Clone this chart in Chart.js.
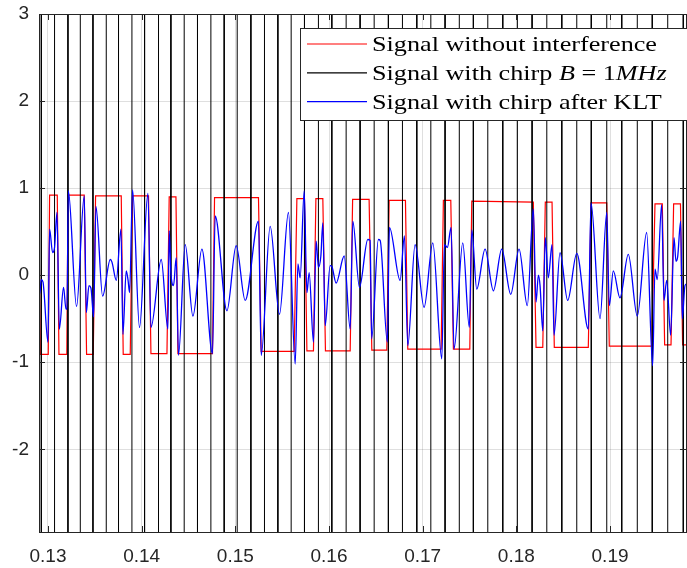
<!DOCTYPE html>
<html>
<head>
<meta charset="utf-8">
<script src="https://cdn.jsdelivr.net/npm/chart.js@4.4.1/dist/chart.umd.min.js"></script>
<style>
  html, body { margin: 0; padding: 0; background: #fff; }
  #wrap { width: 687px; height: 568px; }
</style>
</head>
<body>
<div id="wrap"><canvas id="chart" width="687" height="568"></canvas></div>
<script>
// axis ranges and tick labels
const xRange = [0.12904, 0.19811];
const yRange = [-2.95, 3];
const xTicks = [0.13, 0.14, 0.15, 0.16, 0.17, 0.18, 0.19];
const yTicks = [-2, -1, 0, 1, 2, 3];

const seriesNames = [
  "Signal without interference",
  "Signal with chirp $B = 1MHz$",
  "Signal with chirp after KLT",
];

// signal without interference (corner points of the square wave)
const refX = [0.12904, 0.12918, 0.13003, 0.13017, 0.13099, 0.13117, 0.13201, 0.13214, 0.13387, 0.13412,
  0.13483, 0.13508, 0.13782, 0.13803, 0.13878, 0.13903, 0.14073, 0.14099, 0.14270, 0.14294,
  0.14366, 0.14387, 0.14756, 0.14778, 0.15247, 0.15276, 0.15628, 0.15657, 0.15738, 0.15764,
  0.15834, 0.15860, 0.15934, 0.15962, 0.16226, 0.16252, 0.16428, 0.16457, 0.16617, 0.16642,
  0.16816, 0.16841, 0.17197, 0.17221, 0.17300, 0.17328, 0.17503, 0.17524, 0.18181, 0.18210,
  0.18282, 0.18309, 0.18381, 0.18405, 0.18768, 0.18797, 0.18965, 0.18992, 0.19445, 0.19480,
  0.19558, 0.19583, 0.19651, 0.19679, 0.19752, 0.19775, 0.19832];
const refY = [0.6, -0.91, -0.91, 0.92, 0.92, -0.91, -0.91, 0.92, 0.92, -0.91,
  -0.91, 0.91, 0.91, -0.91, -0.91, 0.91, 0.91, -0.9, -0.9, 0.9,
  0.9, -0.9, -0.9, 0.89, 0.89, -0.875, -0.875, 0.88, 0.88, -0.87,
  -0.87, 0.88, 0.88, -0.87, -0.87, 0.87, 0.87, -0.86, -0.86, 0.86,
  0.86, -0.85, -0.85, 0.86, 0.86, -0.85, -0.85, 0.85, 0.84, -0.83,
  -0.83, 0.84, 0.84, -0.83, -0.83, 0.83, 0.83, -0.815, -0.815, 0.82,
  0.82, -0.8, -0.8, 0.82, 0.82, -0.8, -0.8];

// chirp: huge swings, only the zero crossings are visible
const chirpCrossings = [0.12929, 0.13070, 0.13213, 0.13345, 0.13480, 0.13622, 0.13753, 0.13896, 0.14031, 0.14180,
  0.14312, 0.14454, 0.14596, 0.14739, 0.14881, 0.15020, 0.15166, 0.15311, 0.15454, 0.15596,
  0.15738, 0.15887, 0.16030, 0.16183, 0.16332, 0.16482, 0.16634, 0.16784, 0.16937, 0.17087,
  0.17239, 0.17391, 0.17541, 0.17695, 0.17855, 0.18011, 0.18168, 0.18325, 0.18485, 0.18645,
  0.18800, 0.18965, 0.19125, 0.19291, 0.19451, 0.19616, 0.19782];
const chirpPeak = 60;

// after KLT (peaks, troughs and jump points)
const kltX = [0.12904, 0.12910, 0.12929, 0.12947, 0.13000, 0.13017, 0.13049, 0.13070, 0.13096, 0.13121,
  0.13166, 0.13192, 0.13203, 0.13217, 0.13305, 0.13387, 0.13409, 0.13437, 0.13459, 0.13487,
  0.13512, 0.13583, 0.13665, 0.13683, 0.13729, 0.13779, 0.13800, 0.13835, 0.13854, 0.13871,
  0.13903, 0.13977, 0.14067, 0.14099, 0.14209, 0.14280, 0.14294, 0.14312, 0.14340, 0.14369,
  0.14393, 0.14465, 0.14547, 0.14643, 0.14756, 0.14785, 0.14910, 0.15009, 0.15105, 0.15247,
  0.15276, 0.15372, 0.15471, 0.15567, 0.15639, 0.15668, 0.15692, 0.15735, 0.15764, 0.15788,
  0.15834, 0.15863, 0.15887, 0.15913, 0.15934, 0.15959, 0.16012, 0.16030, 0.16076, 0.16162,
  0.16226, 0.16254, 0.16325, 0.16414, 0.16439, 0.16455, 0.16527, 0.16546, 0.16623, 0.16645,
  0.16759, 0.16805, 0.16841, 0.16919, 0.17015, 0.17108, 0.17204, 0.17232, 0.17264, 0.17303,
  0.17335, 0.17428, 0.17498, 0.17524, 0.17577, 0.17666, 0.17755, 0.17844, 0.17940, 0.18029,
  0.18117, 0.18181, 0.18210, 0.18235, 0.18253, 0.18282, 0.18309, 0.18341, 0.18381, 0.18402,
  0.18466, 0.18548, 0.18645, 0.18768, 0.18797, 0.18893, 0.18965, 0.18992, 0.19035, 0.19106,
  0.19195, 0.19291, 0.19391, 0.19455, 0.19480, 0.19504, 0.19551, 0.19576, 0.19605, 0.19647,
  0.19683, 0.19704, 0.19722, 0.19754, 0.19771, 0.19800, 0.19821];
const kltY = [0.83, -0.22, -0.05, -0.08, -0.77, 0.53, 0.26, 0.32, 0.72, -0.62,
  -0.14, -0.39, -0.39, 0.97, -0.36, 0.91, -0.43, -0.12, -0.15, -0.48,
  0.79, -0.24, 0.18, 0.15, -0.06, 0.53, -0.68, 0.05, -0.05, -0.2,
  0.98, -0.6, 0.94, -0.6, 0.18, -0.62, 0.51, 0.03, -0.12, 0.2,
  -0.92, 0.35, -0.47, 0.3, -0.9, 0.68, -0.41, 0.34, -0.29, 0.62,
  -0.92, 0.56, -0.45, 0.72, -1.02, 0.13, -0.03, 0.97, -0.2, 0.03,
  -0.77, 0.39, 0.09, 0.22, 0.6, -0.58, 0.11, 0.1, -0.09, 0.22,
  -0.62, 0.62, -0.14, 0.41, 0.4, -0.73, 0.41, 0.4, -0.77, 0.55,
  -0.06, 0.45, -0.81, 0.35, -0.37, 0.37, -0.96, 0.35, 0.32, 0.55,
  -0.85, 0.37, -0.6, 0.52, -0.16, 0.3, -0.18, 0.3, -0.22, 0.3,
  -0.35, 0.76, -0.31, 0, -0.12, -0.64, 0.43, -0.03, 0.35, -0.69,
  0.26, -0.29, 0.25, -0.62, 0.83, -0.5, 0.72, -0.35, 0.05, -0.26,
  0.24, -0.47, 0.49, -1.04, 0.07, -0.05, 0.81, -0.29, -0.06, -0.69,
  0.43, 0.16, 0.21, 0.62, -0.5, -0.12, -0.1];

const axisColor = "#262626";
const gridColor = "rgba(38, 38, 38, 0.15)";
const tickFont = { family: "'Liberation Sans', Arial, sans-serif", size: 19 };

function toPoints(xs, ys) {
  return xs.map((x, i) => ({ x, y: ys[i] }));
}

function chirpPoints(crossings) {
  // each crossing is a vertical swing between +peak and -peak
  return crossings.flatMap((x, i) => {
    const s = i % 2 === 0 ? 1 : -1;
    return [{ x, y: s * chirpPeak }, { x, y: -s * chirpPeak }];
  });
}

// LaTeX-ish label: text between $ $ is math, letters there are italic
function drawTexLabel(ctx, text, x, y) {
  const size = 22;
  const stretch = 1.19;
  const roman = `${size}px 'Liberation Serif', 'Times New Roman', serif`;
  const italic = `italic ${size}px 'Liberation Serif', 'Times New Roman', serif`;
  const runs = [];
  text.split("$").forEach((part, k) => {
    if (k % 2 === 0) {
      runs.push({ t: part, f: roman });
    } else {
      part.split(/([A-Za-z]+)/).forEach((p) => {
        if (p) runs.push({ t: p, f: /[A-Za-z]/.test(p) ? italic : roman });
      });
    }
  });
  ctx.save();
  ctx.translate(x, y);
  ctx.scale(stretch, 1);
  ctx.fillStyle = "#000";
  ctx.textBaseline = "alphabetic";
  ctx.textAlign = "left";
  let cx = 0;
  runs.forEach((r) => {
    ctx.font = r.f;
    ctx.fillText(r.t, cx, 0);
    cx += ctx.measureText(r.t).width;
  });
  ctx.restore();
}

const frame = {
  id: "frame",
  afterDatasetsDraw(chart) {
    const { ctx, chartArea: a, scales } = chart;
    ctx.save();
    ctx.strokeStyle = axisColor;
    ctx.lineWidth = 1;
    ctx.beginPath();
    xTicks.forEach((v) => {
      const px = Math.round(scales.x.getPixelForValue(v)) + 0.5;
      ctx.moveTo(px, a.bottom); ctx.lineTo(px, a.bottom - 6);
      ctx.moveTo(px, a.top); ctx.lineTo(px, a.top + 6);
    });
    yTicks.forEach((v) => {
      const py = Math.round(scales.y.getPixelForValue(v)) + 0.5;
      ctx.moveTo(a.left, py); ctx.lineTo(a.left + 6, py);
      ctx.moveTo(a.right, py); ctx.lineTo(a.right - 6, py);
    });
    ctx.stroke();
    ctx.strokeRect(Math.round(a.left) + 0.5, Math.round(a.top) + 0.5,
      Math.round(a.right - a.left), Math.round(a.bottom - a.top));
    ctx.restore();
  },
};

const texLegend = {
  id: "texLegend",
  afterDraw(chart) {
    const { ctx } = chart;
    ctx.save();
    ctx.fillStyle = "#fff";
    ctx.fillRect(300.5, 28.5, 420, 92);
    ctx.strokeStyle = axisColor;
    ctx.lineWidth = 1;
    ctx.strokeRect(300.5, 28.5, 420, 92);
    chart.data.datasets.forEach((ds, i) => {
      const y = 44 + i * 28.8;
      ctx.strokeStyle = ds.borderColor;
      ctx.lineWidth = 1.2;
      ctx.beginPath();
      ctx.moveTo(307, y);
      ctx.lineTo(367, y);
      ctx.stroke();
      drawTexLabel(ctx, ds.label, 372, y + 7);
    });
    ctx.restore();
  },
};

new Chart(document.getElementById("chart"), {
  type: "line",
  data: {
    datasets: [
      {
        label: seriesNames[0],
        data: toPoints(refX, refY),
        borderColor: "#ff0000",
        borderWidth: 1.2,
        pointRadius: 0,
        tension: 0,
        order: 3,
      },
      {
        label: seriesNames[1],
        data: chirpPoints(chirpCrossings),
        borderColor: "#000000",
        borderWidth: 1,
        pointRadius: 0,
        tension: 0,
        order: 2,
      },
      {
        label: seriesNames[2],
        data: toPoints(kltX, kltY),
        borderColor: "#0000ff",
        borderWidth: 1.3,
        pointRadius: 0,
        cubicInterpolationMode: "monotone",
        order: 1,
      },
    ],
  },
  options: {
    responsive: false,
    animation: false,
    events: [],
    layout: { padding: { top: 14, right: 1, left: 0, bottom: 0 } },
    plugins: { legend: { display: false }, tooltip: { enabled: false } },
    scales: {
      x: {
        type: "linear",
        min: xRange[0],
        max: xRange[1],
        afterBuildTicks: (s) => { s.ticks = xTicks.map((value) => ({ value })); },
        afterFit: (s) => { s.height = 36; s.paddingLeft = 0; s.paddingRight = 0; },
        grid: { color: gridColor, drawTicks: false },
        border: { display: false },
        ticks: {
          font: tickFont,
          color: axisColor,
          padding: 13,
          maxRotation: 0,
          autoSkip: false,
          callback: (v) => v.toFixed(2),
        },
      },
      y: {
        min: yRange[0],
        max: yRange[1],
        afterBuildTicks: (s) => { s.ticks = yTicks.map((value) => ({ value })); },
        afterFit: (s) => { s.width = 39; s.paddingTop = 0; s.paddingBottom = 0; },
        grid: { color: gridColor, drawTicks: false },
        border: { display: false },
        ticks: {
          font: tickFont,
          color: axisColor,
          padding: 10,
          callback: (v) => String(v),
        },
      },
    },
  },
  plugins: [frame, texLegend],
});
</script>
</body>
</html>
